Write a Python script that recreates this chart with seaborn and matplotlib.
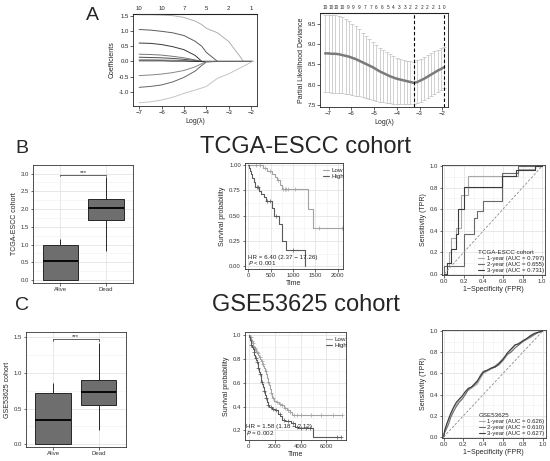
import numpy as np
import pandas as pd
import matplotlib
matplotlib.use("Agg")
import matplotlib.pyplot as plt
import seaborn as sns
from matplotlib.ticker import AutoMinorLocator, FormatStrFormatter

# ---------------- data ----------------
# A left: lasso coefficient paths
lasso_loglam = [-7, -6.5, -6, -5.5, -5, -4.5, -4.2, -4, -3.5, -3, -2.5, -2.35, -1.93]
lasso_paths = {
    "g1": [1.55, 1.55, 1.54, 1.52, 1.46, 1.34, 1.22, 1.10, 0.95, 0.66, 0.17, 0.0, 0.0],
    "g2": [1.06, 1.04, 1.00, 0.95, 0.86, 0.67, 0.50, 0.30, 0.0, 0.0, 0.0, 0.0, 0.0],
    "g3": [0.61, 0.60, 0.56, 0.49, 0.39, 0.20, 0.0, 0.0, 0.0, 0.0, 0.0, 0.0, 0.0],
    "g4": [0.24, 0.23, 0.21, 0.17, 0.12, 0.05, 0.0, 0.0, 0.0, 0.0, 0.0, 0.0, 0.0],
    "g5": [0.14, 0.13, 0.12, 0.10, 0.07, 0.03, 0.0, 0.0, 0.0, 0.0, 0.0, 0.0, 0.0],
    "g6": [0.06, 0.06, 0.05, 0.04, 0.03, 0.01, 0.0, 0.0, 0.0, 0.0, 0.0, 0.0, 0.0],
    "g7": [0.02, 0.02, 0.02, 0.01, 0.01, 0.0, 0.0, 0.0, 0.0, 0.0, 0.0, 0.0, 0.0],
    "g8": [-0.47, -0.45, -0.42, -0.37, -0.30, -0.18, -0.07, 0.0, 0.0, 0.0, 0.0, 0.0, 0.0],
    "g9": [-0.86, -0.83, -0.78, -0.68, -0.53, -0.32, -0.13, -0.02, 0.0, 0.0, 0.0, 0.0, 0.0],
    "g10": [-1.37, -1.34, -1.28, -1.19, -1.06, -0.95, -0.88, -0.83, -0.56, -0.41, -0.22, -0.16, 0.0],
}
lasso_top_pos = [-7, -6, -5, -4, -3, -2]
lasso_top_lab = ["10", "10", "7", "5", "2", "1"]

# A right: cross-validation curve
cv_loglam = [-7.15, -7.00, -6.85, -6.70, -6.55, -6.40, -6.25, -6.10, -5.95, -5.80,
             -5.65, -5.50, -5.35, -5.20, -5.05, -4.90, -4.75, -4.60, -4.45, -4.30,
             -4.15, -4.00, -3.85, -3.70, -3.55, -3.40, -3.25, -3.10, -2.95, -2.80,
             -2.65, -2.50, -2.35, -2.20, -2.05, -1.93]
cv_mean = [8.77, 8.77, 8.76, 8.76, 8.75, 8.73, 8.71, 8.69, 8.66, 8.63,
           8.59, 8.55, 8.51, 8.47, 8.43, 8.38, 8.33, 8.29, 8.25, 8.21,
           8.18, 8.15, 8.13, 8.11, 8.09, 8.07, 8.05, 8.07, 8.11, 8.15,
           8.20, 8.25, 8.30, 8.35, 8.39, 8.43]
cv_upper = [9.72, 9.72, 9.71, 9.70, 9.68, 9.65, 9.61, 9.56, 9.50, 9.43,
            9.36, 9.28, 9.20, 9.12, 9.05, 8.98, 8.91, 8.85, 8.80, 8.75,
            8.70, 8.66, 8.63, 8.61, 8.59, 8.58, 8.57, 8.60, 8.64, 8.68,
            8.73, 8.77, 8.82, 8.86, 8.89, 8.93]
cv_lower = [7.83, 7.82, 7.81, 7.81, 7.80, 7.79, 7.78, 7.77, 7.75, 7.74,
            7.72, 7.70, 7.68, 7.66, 7.63, 7.61, 7.59, 7.57, 7.56, 7.55,
            7.54, 7.53, 7.53, 7.52, 7.52, 7.52, 7.53, 7.55, 7.59, 7.63,
            7.68, 7.73, 7.78, 7.83, 7.88, 7.92]
cv_min_lam = -3.25
cv_1se_lam = -1.93
cv_top_pos = [-7.15, -6.90, -6.65, -6.40, -6.15, -5.90, -5.65, -5.40, -5.15, -4.90,
              -4.65, -4.40, -4.15, -3.90, -3.65, -3.40, -3.15, -2.90, -2.65, -2.40,
              -2.15, -1.90]
cv_top_lab = ["10", "10", "10", "10", "9", "9", "9", "7", "7", "6", "6",
              "5", "4", "3", "3", "2", "2", "2", "2", "2", "1", "0"]

# B / C left: boxplot summaries (min, q1, median, q3, max)
groups = ["Alive", "Dead"]
tcga_box = {"Alive": [0.0, 0.0, 0.54, 1.0, 1.15], "Dead": [0.82, 1.68, 2.02, 2.27, 2.89]}
gse_box = {"Alive": [0.0, 0.0, 0.34, 0.71, 0.86], "Dead": [0.20, 0.55, 0.73, 0.90, 1.42]}

# B middle: Kaplan-Meier TCGA-ESCC
tcga_low_t = [0, 333, 422, 540, 593, 644, 704, 748, 1333, 1444, 2090]
tcga_low_s = [1.0, 0.97, 0.94, 0.91, 0.88, 0.85, 0.80, 0.76, 0.57, 0.38, 0.38]
tcga_low_cens = [185, 260, 370, 481, 667, 778, 815, 850, 900, 1037, 1593, 2089]
tcga_high_t = [0, 22, 52, 74, 96, 126, 156, 244, 296, 348, 393, 541, 570, 689, 763, 837, 1259]
tcga_high_s = [1.0, 0.97, 0.94, 0.91, 0.87, 0.83, 0.78, 0.74, 0.71, 0.68, 0.65, 0.58, 0.50,
               0.42, 0.25, 0.16, 0.0]
tcga_high_cens = [200, 230, 422, 481, 630, 1000]

# C middle: Kaplan-Meier GSE53625
gse_low_t = [0, 60, 120, 180, 240, 300, 360, 430, 500, 570, 640, 720, 800, 880, 960,
             1040, 1120, 1200, 1280, 1350, 1420, 1480, 1550, 1620, 1700, 1760, 1850,
             1950, 2100, 2300, 2500, 2750, 2950, 3150, 3350, 7200]
gse_low_s = [1.0, 0.99, 0.98, 0.96, 0.95, 0.93, 0.91, 0.89, 0.88, 0.86, 0.85, 0.83, 0.82,
             0.80, 0.78, 0.76, 0.74, 0.72, 0.70, 0.67, 0.64, 0.61, 0.58, 0.55, 0.51, 0.48,
             0.47, 0.45, 0.44, 0.42, 0.41, 0.39, 0.37, 0.35, 0.33, 0.33]
gse_low_cens = [150, 250, 350, 450, 520, 600, 700, 850, 1000, 1100, 1300, 1500, 1700,
                1900, 2200, 2400, 2600, 2800, 3000, 3200, 3500, 3700, 4000, 4800, 5600,
                6500, 7200]
gse_high_t = [0, 40, 90, 140, 200, 260, 320, 380, 440, 500, 560, 620, 680, 740, 800,
              860, 920, 980, 1040, 1100, 1160, 1230, 1300, 1380, 1460, 1600, 1800, 2000,
              2250, 2450, 2600, 2800, 3300, 3550, 3800, 4950, 7100]
gse_high_s = [1.0, 0.98, 0.96, 0.94, 0.92, 0.90, 0.88, 0.86, 0.83, 0.81, 0.79, 0.77,
              0.74, 0.72, 0.69, 0.67, 0.64, 0.61, 0.59, 0.56, 0.53, 0.50, 0.47, 0.44,
              0.41, 0.40, 0.38, 0.37, 0.34, 0.32, 0.29, 0.28, 0.26, 0.23, 0.22, 0.145, 0.145]
gse_high_cens = [200, 300, 420, 550, 650, 750, 900, 1000, 1200, 1350, 1500, 1700, 1900,
                 2100, 2400, 2700, 3000, 3400, 3700, 4000, 4400, 4700, 6800, 7100]

# B right: ROC TCGA-ESCC
tcga_roc = {
    "1-year (AUC = 0.797)": (
        [0, 0, 0.05, 0.05, 0.07, 0.07, 0.12, 0.12, 0.17, 0.17, 0.24, 0.24, 0.75, 0.75, 0.93, 0.93, 1],
        [0, 0.07, 0.07, 0.2, 0.2, 0.33, 0.33, 0.43, 0.43, 0.73, 0.73, 0.91, 0.91, 0.97, 0.97, 1, 1]),
    "2-year (AUC = 0.655)": (
        [0, 0, 0.2, 0.2, 0.3, 0.3, 0.34, 0.34, 0.40, 0.40, 0.59, 0.59, 0.75, 0.75, 1],
        [0, 0.07, 0.07, 0.37, 0.37, 0.52, 0.52, 0.58, 0.58, 0.68, 0.68, 0.94, 0.94, 1, 1]),
    "3-year (AUC = 0.731)": (
        [0, 0.03, 0.03, 0.07, 0.07, 0.12, 0.12, 0.14, 0.14, 0.20, 0.20, 0.59, 0.59, 0.73, 0.73, 0.93, 0.93, 1],
        [0, 0, 0.1, 0.1, 0.23, 0.23, 0.37, 0.37, 0.6, 0.6, 0.81, 0.81, 0.91, 0.91, 0.96, 0.96, 1, 1]),
}

# C right: ROC GSE53625
gse_fpr = [0, 0.01, 0.03, 0.05, 0.07, 0.1, 0.13, 0.16, 0.19, 0.22, 0.25, 0.28, 0.31, 0.34,
           0.37, 0.4, 0.44, 0.48, 0.52, 0.56, 0.6, 0.64, 0.68, 0.72, 0.76, 0.8, 0.84, 0.88,
           0.92, 0.96, 1.0]
gse_roc = {
    "1-year (AUC = 0.626)": [0, 0.05, 0.1, 0.16, 0.2, 0.27, 0.31, 0.35, 0.38, 0.42, 0.44, 0.46,
                             0.48, 0.5, 0.55, 0.6, 0.62, 0.64, 0.66, 0.68, 0.72, 0.77, 0.82,
                             0.86, 0.89, 0.9, 0.92, 0.94, 0.97, 0.99, 1.0],
    "2-year (AUC = 0.610)": [0, 0.04, 0.08, 0.12, 0.18, 0.24, 0.29, 0.33, 0.36, 0.4, 0.45, 0.47,
                             0.49, 0.52, 0.58, 0.62, 0.63, 0.65, 0.67, 0.7, 0.74, 0.78, 0.8,
                             0.84, 0.87, 0.9, 0.93, 0.95, 0.97, 0.99, 1.0],
    "3-year (AUC = 0.627)": [0, 0.06, 0.12, 0.17, 0.22, 0.28, 0.33, 0.36, 0.39, 0.43, 0.46, 0.47,
                             0.5, 0.53, 0.57, 0.61, 0.63, 0.65, 0.66, 0.69, 0.73, 0.79, 0.83,
                             0.87, 0.88, 0.91, 0.93, 0.96, 0.98, 0.99, 1.0],
}

# ---------------- style ----------------
sns.set_style("white")
plt.rcParams["font.family"] = ["Liberation Sans", "DejaVu Sans"]
plt.rcParams["axes.unicode_minus"] = True

TICK = 4.3
LAB = 5.0
roc_cols = ["#a8a8a8", "#6a6a6a", "#3c3c3c"]
km_cols = {"Low": "#a3a3a3", "High": "#5a5a5a"}
lasso_cols = ["#b0b0b0", "#5c5c5c", "#3a3a3a", "#777777", "#4a4a4a", "#8f8f8f",
              "#2f2f2f", "#888888", "#666666", "#c4c4c4"]

fig = plt.figure(figsize=(5.5, 4.61), dpi=100)


def base_r_axes(ax):
    for s in ax.spines.values():
        s.set_visible(True)
        s.set_color("#222222")
        s.set_linewidth(0.6)
    ax.tick_params(labelsize=TICK, length=2, width=0.5, pad=1, colors="#222222",
                   bottom=True, left=True)


def gg_axes(ax, xmaj=None, ymaj=None):
    for s in ax.spines.values():
        s.set_visible(True)
        s.set_color("#333333")
        s.set_linewidth(0.6)
    ax.tick_params(labelsize=TICK, length=1.8, width=0.5, pad=1, colors="#333333",
                   bottom=True, left=True)
    ax.tick_params(which="minor", length=0)
    ax.yaxis.set_minor_locator(AutoMinorLocator(2))
    if xmaj is not None:
        ax.xaxis.set_minor_locator(AutoMinorLocator(2))
    ax.grid(True, which="major", color="#e2e2e2", lw=0.55)
    ax.grid(True, which="minor", color="#efefef", lw=0.4)
    ax.set_axisbelow(True)


# ---------------- A left ----------------
axA1 = fig.add_axes([0.242, 0.770, 0.226, 0.200])
lasso_df = pd.DataFrame([(g, x, y) for g, ys in lasso_paths.items()
                         for x, y in zip(lasso_loglam, ys)], columns=["gene", "loglam", "coef"])
sns.lineplot(data=lasso_df, x="loglam", y="coef", hue="gene", palette=lasso_cols,
             estimator=None, lw=0.7, legend=False, ax=axA1)
axA1.set_xlim(-7.27, -1.72)
axA1.set_ylim(-1.48, 1.58)
axA1.set_xticks([-7, -6, -5, -4, -3, -2])
axA1.set_yticks([-1.0, -0.5, 0.0, 0.5, 1.0, 1.5])
axA1.yaxis.set_major_formatter(FormatStrFormatter("%.1f"))
base_r_axes(axA1)
axA1.set_xlabel("Log(λ)", fontsize=LAB, labelpad=2)
axA1.set_ylabel("Coefficients", fontsize=LAB, labelpad=2)
topA1 = axA1.secondary_xaxis("top")
topA1.set_xticks(lasso_top_pos, lasso_top_lab)
topA1.tick_params(length=0, labelsize=TICK, pad=2)

# ---------------- A right ----------------
axA2 = fig.add_axes([0.582, 0.768, 0.233, 0.204])
axA2.errorbar(cv_loglam, cv_mean,
              yerr=[np.array(cv_mean) - np.array(cv_lower), np.array(cv_upper) - np.array(cv_mean)],
              fmt="none", ecolor="#bdbdbd", elinewidth=0.5, capsize=1.3, capthick=0.5)
sns.lineplot(x=cv_loglam, y=cv_mean, color="#7a7a7a", lw=1.8, estimator=None, ax=axA2)
axA2.axvline(cv_min_lam, color="black", ls=(0, (3, 2)), lw=0.8)
axA2.axvline(cv_1se_lam, color="black", ls=(0, (3, 2)), lw=0.8)
axA2.set_xlim(-7.37, -1.74)
axA2.set_ylim(7.46, 9.76)
axA2.set_xticks([-7, -6, -5, -4, -3, -2])
axA2.set_yticks([7.5, 8.0, 8.5, 9.0, 9.5])
axA2.yaxis.set_major_formatter(FormatStrFormatter("%.1f"))
base_r_axes(axA2)
axA2.set_xlabel("Log(λ)", fontsize=LAB, labelpad=2)
axA2.set_ylabel("Partial Likelihood Deviance", fontsize=LAB, labelpad=2)
topA2 = axA2.secondary_xaxis("top")
topA2.set_xticks(cv_top_pos, cv_top_lab)
topA2.tick_params(length=0, labelsize=3.4, pad=2)


# ---------------- boxplots ----------------
def boxpanel(rect, summ, ylabel, ylim, yticks, fmt, bracket_y, bracket_d):
    ax = fig.add_axes(rect)
    df = pd.DataFrame([(g, v) for g in groups for v in summ[g]], columns=["status", "value"])
    sns.boxplot(data=df, x="status", y="value", order=groups, color="#6e6e6e",
                linecolor="#262626", width=0.78, linewidth=0.7, showcaps=False,
                showfliers=False, saturation=1,
                medianprops=dict(color="black", linewidth=1.3), ax=ax)
    ax.set_xlim(-0.6, 1.6)
    ax.set_ylim(*ylim)
    ax.set_yticks(yticks)
    ax.yaxis.set_major_formatter(FormatStrFormatter(fmt))
    gg_axes(ax)
    ax.xaxis.grid(True, which="major", color="#e2e2e2", lw=0.55)
    ax.plot([0, 0, 1, 1], [bracket_y - bracket_d, bracket_y, bracket_y, bracket_y - bracket_d],
            color="#222222", lw=0.5)
    ax.text(0.5, bracket_y, "***", ha="center", va="bottom", fontsize=4.3, color="#222222")
    ax.set_xlabel("")
    ax.set_ylabel(ylabel, fontsize=LAB, labelpad=2)
    return ax


boxpanel([0.060, 0.386, 0.182, 0.256], tcga_box, "TCGA-ESCC cohort", (-0.085, 3.24),
         [0.0, 0.5, 1.0, 1.5, 2.0, 2.5, 3.0], "%.1f", 2.97, 0.05)
boxpanel([0.047, 0.030, 0.182, 0.250], gse_box, "GSE53625 cohort", (-0.04, 1.57),
         [0.0, 0.5, 1.0, 1.5], "%.1f", 1.47, 0.03)


# ---------------- Kaplan-Meier ----------------
def step_value(times, surv, t):
    idx = np.searchsorted(np.array(times), np.array(t), side="right") - 1
    return np.array(surv)[idx]


def kmpanel(rect, curves, xlim, ylim, xticks, yticks, yfmt, hr_text, p_text, txt_x, txt_y):
    ax = fig.add_axes(rect)
    for name, (t, s, cens) in curves.items():
        sns.lineplot(x=t, y=s, estimator=None, drawstyle="steps-post", color=km_cols[name],
                     lw=0.8, label=name, ax=ax)
        sns.scatterplot(x=cens, y=step_value(t, s, cens), marker="+", s=10,
                        color=km_cols[name], linewidth=0.5, ax=ax)
    ax.set_xlim(*xlim)
    ax.set_ylim(*ylim)
    ax.set_xticks(xticks)
    ax.set_yticks(yticks)
    ax.yaxis.set_major_formatter(FormatStrFormatter(yfmt))
    gg_axes(ax, xmaj=True)
    ax.text(txt_x, txt_y[0], hr_text, fontsize=4.5, ha="left", va="center", color="#222222")
    ax.text(txt_x, txt_y[1], p_text, fontsize=4.5, ha="left", va="center", color="#222222")
    ax.set_xlabel("Time", fontsize=LAB, labelpad=1.5)
    ax.set_ylabel("Survival probability", fontsize=LAB, labelpad=2)
    ax.legend(loc="upper right", bbox_to_anchor=(1.06, 1.0), frameon=False,
              fontsize=4.5, handlelength=1.0, handletextpad=0.4, labelspacing=0.2,
              borderaxespad=0.3)
    return ax


kmpanel([0.445, 0.4165, 0.178, 0.230],
        {"Low": (tcga_low_t, tcga_low_s, tcga_low_cens),
         "High": (tcga_high_t, tcga_high_s, tcga_high_cens)},
        (-75, 2110), (-0.025, 1.02), [0, 500, 1000, 1500, 2000],
        [0.0, 0.25, 0.5, 0.75, 1.0], "%.2f",
        "HR = 6.40 (2.37 − 17.26)", r"$\it{P}$ < 0.001", 0, (0.09, 0.035))
kmpanel([0.445, 0.0456, 0.1836, 0.234],
        {"Low": (gse_low_t, gse_low_s, gse_low_cens),
         "High": (gse_high_t, gse_high_s, gse_high_cens)},
        (-310, 7490), (0.119, 1.025), [0, 2000, 4000, 6000],
        [0.2, 0.4, 0.6, 0.8, 1.0], "%.1f",
        "HR = 1.58 (1.18 − 2.12)", r"$\it{P}$ = 0.002", -180, (0.23, 0.18))


# ---------------- ROC ----------------
def rocpanel(rect, curves, title):
    ax = fig.add_axes(rect)
    for (name, (fpr, tpr)), col in zip(curves.items(), roc_cols):
        sns.lineplot(x=fpr, y=tpr, estimator=None, sort=False, color=col, lw=0.8,
                     label=name, ax=ax)
    ax.plot([0, 1], [0, 1], ls=(0, (3, 2)), color="#8a8a8a", lw=0.6)
    ax.set_xlim(-0.02, 1.03)
    ax.set_ylim(-0.01, 1.01)
    ax.set_xticks([0, 0.2, 0.4, 0.6, 0.8, 1.0])
    ax.set_yticks([0, 0.2, 0.4, 0.6, 0.8, 1.0])
    ax.xaxis.set_major_formatter(FormatStrFormatter("%.1f"))
    ax.yaxis.set_major_formatter(FormatStrFormatter("%.1f"))
    gg_axes(ax, xmaj=True)
    ax.set_xlabel("1−Specificity (FPR)", fontsize=LAB, labelpad=1.5)
    ax.set_ylabel("Sensitivity (TPR)", fontsize=LAB, labelpad=2)
    leg = ax.legend(title=title, loc="lower right", bbox_to_anchor=(1.03, -0.02),
                    frameon=False, fontsize=4.3, title_fontsize=4.5, handlelength=1.0,
                    handletextpad=0.4, labelspacing=0.15, borderaxespad=0.3)
    leg._legend_box.align = "left"
    return ax


rocpanel([0.804, 0.4035, 0.187, 0.2386], tcga_roc, "TCGA-ESCC cohort")
rocpanel([0.803, 0.050, 0.189, 0.234],
         {k: (gse_fpr, v) for k, v in gse_roc.items()}, "GSE53625")

# ---------------- titles and panel letters ----------------
fig.text(305 / 550, 1 - 147 / 461, "TCGA-ESCC cohort", fontsize=17, ha="center", va="center")
fig.text(306 / 550, 1 - 305 / 461, "GSE53625 cohort", fontsize=17, ha="center", va="center")
fig.text(92 / 550, 1 - 15 / 461, "A", fontsize=14, ha="center", va="center")
fig.text(22 / 550, 1 - 148 / 461, "B", fontsize=14, ha="center", va="center")
fig.text(22 / 550, 1 - 306 / 461, "C", fontsize=14, ha="center", va="center")

fig.savefig("out.png", dpi=100)
